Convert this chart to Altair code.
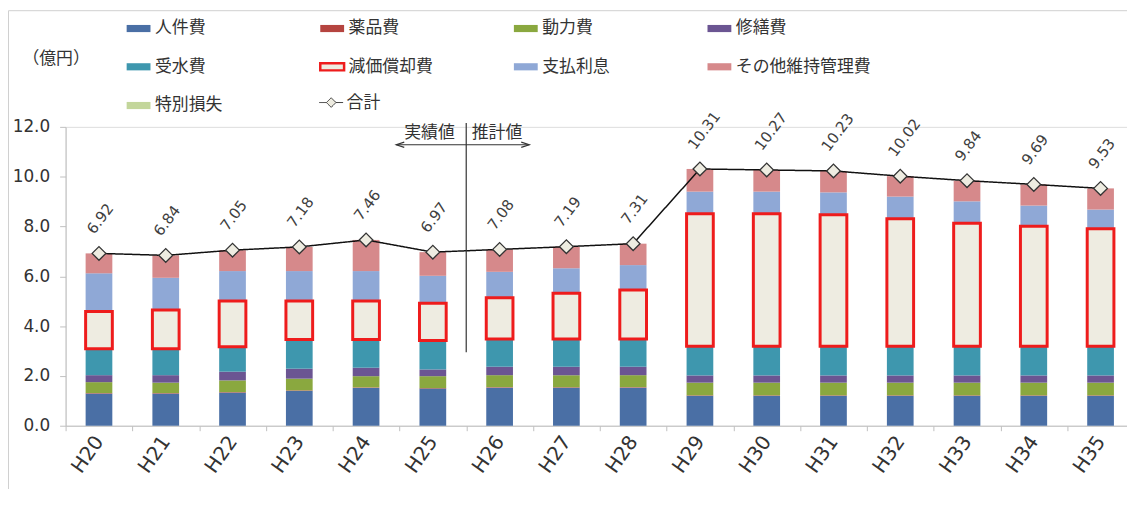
import altair as alt
import pandas as pd

years = ["H20", "H21", "H22", "H23", "H24", "H25", "H26", "H27", "H28",
         "H29", "H30", "H31", "H32", "H33", "H34", "H35"]

cats = ["人件費", "薬品費", "動力費", "修繕費", "受水費", "減価償却費",
        "支払利息", "その他維持管理費", "特別損失"]

jinkenhi = [1.29, 1.29, 1.33, 1.40, 1.52, 1.49, 1.53, 1.53, 1.53, 1.20, 1.20, 1.20, 1.20, 1.20, 1.20, 1.20]
yakuhinhi = [0.02, 0.02, 0.02, 0.02, 0.02, 0.02, 0.02, 0.02, 0.02, 0.02, 0.02, 0.02, 0.02, 0.02, 0.02, 0.02]
douryokuhi = [0.44, 0.42, 0.47, 0.47, 0.45, 0.48, 0.48, 0.48, 0.48, 0.51, 0.51, 0.51, 0.51, 0.51, 0.51, 0.51]
shuzenhi = [0.28, 0.30, 0.35, 0.40, 0.34, 0.27, 0.34, 0.34, 0.34, 0.29, 0.29, 0.29, 0.29, 0.29, 0.29, 0.29]
jusuihi = [1.06, 1.06, 1.00, 1.17, 1.13, 1.16, 1.11, 1.11, 1.11, 1.17, 1.17, 1.17, 1.17, 1.17, 1.17, 1.17]
genka = [1.50, 1.56, 1.84, 1.55, 1.55, 1.50, 1.66, 1.84, 1.97, 5.32, 5.32, 5.28, 5.12, 4.94, 4.82, 4.72]
shiharai = [1.53, 1.29, 1.20, 1.20, 1.20, 1.10, 1.04, 1.00, 1.00, 0.89, 0.89, 0.90, 0.89, 0.88, 0.83, 0.77]
sonota = [0.80, 0.90, 0.84, 0.97, 1.25, 0.95, 0.90, 0.87, 0.86, 0.91, 0.87, 0.86, 0.82, 0.83, 0.85, 0.85]
tokubetsu = [0, 0, 0, 0, 0, 0, 0, 0, 0, 0, 0, 0, 0, 0, 0, 0]

totals = [6.92, 6.84, 7.05, 7.18, 7.46, 6.97, 7.08, 7.19, 7.31,
          10.31, 10.27, 10.23, 10.02, 9.84, 9.69, 9.53]

fill_colors = ["#4a6fa5", "#b5443f", "#8aa83f", "#6b5592", "#3e97ae",
               "#eeece1", "#8fa8d6", "#d6898b", "#c3d69b"]
stroke_colors = ["transparent", "transparent", "transparent", "transparent", "transparent",
                 "#ee1c1c", "transparent", "transparent", "transparent"]

series = {
    "人件費": jinkenhi, "薬品費": yakuhinhi, "動力費": douryokuhi, "修繕費": shuzenhi,
    "受水費": jusuihi, "減価償却費": genka, "支払利息": shiharai,
    "その他維持管理費": sonota, "特別損失": tokubetsu,
}

# draw order: 減価償却費 last so its red frame sits on top
draw_order = [c for c in cats if c != "減価償却費"] + ["減価償却費"]
rows = []
for c in draw_order:
    for y, v in zip(years, series[c]):
        rows.append({"year": y, "item": c, "value": v, "idx": cats.index(c)})
bars_df = pd.DataFrame(rows)

tot_df = pd.DataFrame({"year": years, "total": totals, "series": ["合計"] * len(years)})

JP = "Noto Sans CJK JP"
NUM = "DejaVu Sans"

x_enc = alt.X("year:N", sort=years,
              scale=alt.Scale(domain=years, range=[0, 1076], paddingInner=0, paddingOuter=0),
              axis=alt.Axis(title=None, labelAngle=305, labelAlign="right", labelBaseline="middle",
                            labelFont=NUM, labelFontSize=20, labelColor="#333333",
                            labelPadding=7, tickBand="extent", tickSize=5,
                            tickColor="#bfbfbf", domainColor="#bfbfbf", grid=False))

y_scale = alt.Scale(domain=[0, 12], nice=False, zero=True)

legend_props = dict(title=None, orient="none", direction="horizontal", legendX=60, legendY=-113,
                    columns=4, gridAlign="all", columnPadding=25, rowPadding=16,
                    symbolType="M-1,-0.3H1V0.3H-1Z", symbolSize=576, symbolStrokeWidth=2.5,
                    labelFont=JP, labelFontSize=17, labelColor="#333333", labelOffset=3,
                    padding=0, labelLimit=300)

bars = alt.Chart(bars_df).mark_bar(width={"band": 0.4}, strokeWidth=3).encode(
    x=x_enc,
    y=alt.Y("value:Q", stack="zero", scale=y_scale,
            axis=alt.Axis(title="（億円）", titleAngle=0, titleAlign="left", titleBaseline="middle",
                          titleX=-44, titleY=-69, titleFont=JP, titleFontSize=17,
                          titleFontWeight="normal", titleColor="#333333",
                          values=[0, 2, 4, 6, 8, 10, 12], format=".1f",
                          labelFont=NUM, labelFontSize=17, labelColor="#333333", labelPadding=10,
                          tickSize=6, tickColor="#bfbfbf", domainColor="#bfbfbf", grid=False)),
    fill=alt.Fill("item:N", scale=alt.Scale(domain=cats, range=fill_colors),
                  legend=alt.Legend(**legend_props)),
    stroke=alt.Stroke("item:N", scale=alt.Scale(domain=cats, range=stroke_colors),
                      legend=alt.Legend(**legend_props)),
    order=alt.Order("idx:Q"),
)

line = alt.Chart(tot_df).mark_line(color="#111111", strokeWidth=1.5).encode(
    x=alt.X("year:N", sort=years),
    y=alt.Y("total:Q", scale=y_scale),
    strokeDash=alt.StrokeDash("series:N", scale=alt.Scale(domain=["合計"], range=[[1, 0]]),
                              legend=alt.Legend(title=None, orient="none", legendX=255, legendY=-37,
                                                symbolType="M-1,0H-0.4M0.4,0H1M0,-0.4L0.4,0L0,0.4L-0.4,0Z",
                                                symbolSize=576, symbolStrokeColor="#333333",
                                                symbolFillColor="#eeece1", symbolStrokeWidth=1,
                                                labelFont=JP, labelFontSize=17, labelColor="#333333",
                                                labelOffset=3, padding=0)),
)

points = alt.Chart(tot_df).mark_point(shape="diamond", filled=True, fill="#eeece1",
                                      stroke="#333333", strokeWidth=1.3, size=190, opacity=1).encode(
    x=alt.X("year:N", sort=years),
    y=alt.Y("total:Q", scale=y_scale),
)

labels = alt.Chart(tot_df).mark_text(angle=307, align="left", baseline="middle", dx=12, dy=-20,
                                     font=NUM, fontSize=15, color="#404040").encode(
    x=alt.X("year:N", sort=years),
    y=alt.Y("total:Q", scale=y_scale),
    text=alt.Text("total:Q", format=".2f"),
)

# annotation: 実績値 | 推計値
div_df = pd.DataFrame({"year": ["H26"], "top": [12.16], "bottom": [2.95]})
divider = alt.Chart(div_df).mark_rule(color="#333333", strokeWidth=1.2).encode(
    x=alt.X("year:N", sort=years, bandPosition=0),
    y=alt.Y("top:Q", scale=y_scale),
    y2="bottom:Q",
)
arrow = alt.Chart(div_df).mark_rule(color="#333333", strokeWidth=1.2).encode(
    x=alt.value(333), x2=alt.value(467), y=alt.value(18),
)
arrow_l = alt.Chart(div_df).mark_point(shape="M0.8,-0.6L-1,0L0.8,0.6", filled=False, size=80,
                                       stroke="#333333", strokeWidth=1.2, opacity=1).encode(
    x=alt.value(337.5), y=alt.value(18),
)
arrow_r = alt.Chart(div_df).mark_point(shape="M-0.8,-0.6L1,0L-0.8,0.6", filled=False, size=80,
                                       stroke="#333333", strokeWidth=1.2, opacity=1).encode(
    x=alt.value(462.5), y=alt.value(18),
)
txt_l = alt.Chart(div_df).mark_text(text="実績値", align="right", baseline="middle",
                                    font=JP, fontSize=17, color="#333333").encode(
    x=alt.value(392), y=alt.value(6),
)
txt_r = alt.Chart(div_df).mark_text(text="推計値", align="left", baseline="middle",
                                    font=JP, fontSize=17, color="#333333").encode(
    x=alt.value(409), y=alt.value(6),
)

frame = alt.Chart(div_df).mark_rect(fill="transparent", stroke="#d0d0d0", strokeWidth=1).encode(
    x=alt.value(-57.5), x2=alt.value(1200), y=alt.value(-117), y2=alt.value(500),
)

chart = alt.layer(frame, bars, line, points, labels, divider, arrow, arrow_l, arrow_r, txt_l, txt_r).properties(
    width=1069, height=301,
    autosize=alt.AutoSizeParams(type="none"),
    padding={"left": 58, "top": 118, "right": 0, "bottom": 62},
).configure_view(stroke=None).configure(background="white")

chart.save("out.html", embed_options={"renderer": "svg", "actions": False})
